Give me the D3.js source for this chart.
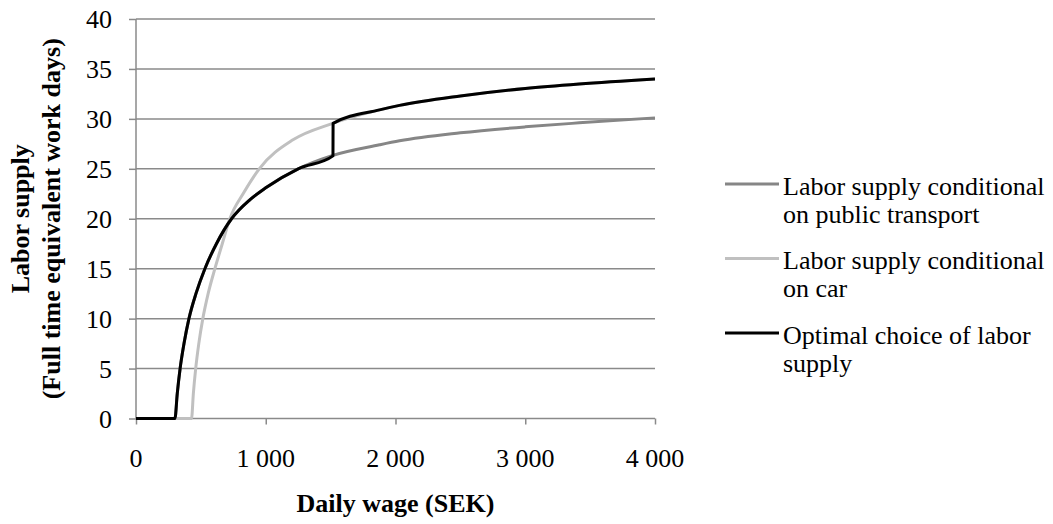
<!DOCTYPE html>
<html>
<head>
<meta charset="utf-8">
<script src="https://cdn.jsdelivr.net/npm/d3@7"></script>
<style>
  html, body { margin: 0; padding: 0; background: #fff; }
  svg { display: block; }
</style>
</head>
<body>
<svg id="chart" width="1053" height="524"></svg>
<script>
// ---- data ----
const xTicks = [0, 1000, 2000, 3000, 4000];
const yTicks = [0, 5, 10, 15, 20, 25, 30, 35, 40];

const ptWage   = [0, 300, 318, 340, 370, 408, 462, 531, 620, 736, 877, 1000, 1250, 1505, 1877, 2031, 2500, 3000, 3415, 4000];
const ptSupply = [0, 0, 2.5, 5, 7.5, 10, 12.5, 15, 17.5, 20, 21.9, 23.1, 25, 26.3, 27.4, 27.8, 28.6, 29.2, 29.6, 30.1];

const carWage   = [0, 428, 442, 460, 484, 515, 556, 608, 665, 723, 830, 950, 1210, 1505, 1877, 2031, 2500, 3000, 3415, 4000];
const carSupply = [0, 0, 2.5, 5, 7.5, 10, 12.5, 15, 17.5, 20, 22.6, 25, 27.9, 29.5, 30.9, 31.35, 32.3, 33.05, 33.5, 34.0];

const optWage   = [0, 300, 318, 340, 370, 408, 462, 531, 620, 736, 877, 1000, 1250, 1518, 1519, 1877, 2031, 2500, 3000, 3415, 4000];
const optSupply = [0, 0, 2.5, 5, 7.5, 10, 12.5, 15, 17.5, 20, 21.9, 23.1, 25, 26.3, 29.55, 30.9, 31.35, 32.3, 33.05, 33.5, 34.0];

const seriesLine1 = ["Labor supply conditional", "Labor supply conditional", "Optimal choice of labor"];
const seriesLine2 = ["on public transport", "on car", "supply"];
const seriesColors = ["#868686", "#c0c0c0", "#000000"];

// ---- chart ----
const FAMILY = "Times New Roman";
const FS = 26;
const svg = d3.select("#chart");
const x = d3.scaleLinear().domain([0, 4000]).range([136, 655]);
const y = d3.scaleLinear().domain([0, 40]).range([418.5, 19]);
const gridColor = "#8a8a8a";

function addText(xp, yp, str, opts = {}) {
  const t = svg.append("text")
    .attr("x", xp).attr("y", yp)
    .attr("font-family", FAMILY)
    .attr("font-size", FS)
    .attr("fill", "#000")
    .attr("text-anchor", opts.anchor || "start")
    .style("font-family", `"${FAMILY}"`)
    .text(str);
  if (opts.bold) t.attr("font-weight", "bold");
  if (opts.transform) t.attr("transform", opts.transform);
  return t;
}

// gridlines
svg.append("g").selectAll("line").data(yTicks.filter(d => d > 0)).join("line")
  .attr("x1", x(0)).attr("x2", x(4000))
  .attr("y1", d => y(d)).attr("y2", d => y(d))
  .attr("stroke", gridColor).attr("stroke-width", 1.5);

// axes (lines and tick marks)
const xAxis = svg.append("g").attr("transform", `translate(0,${y(0)})`)
  .call(d3.axisBottom(x).tickValues(xTicks).tickSize(6).tickFormat(() => ""));
const yAxis = svg.append("g").attr("transform", `translate(${x(0)},0)`)
  .call(d3.axisLeft(y).tickValues(yTicks).tickSize(7).tickFormat(() => ""));
[xAxis, yAxis].forEach(g => {
  g.selectAll(".tick text").remove();
  g.select(".domain").attr("stroke", gridColor).attr("stroke-width", 1.5);
  g.selectAll(".tick line").attr("stroke", gridColor).attr("stroke-width", 1.5);
});
xAxis.select(".domain").attr("d", `M${x(0)},0H${x(4000)}`);
yAxis.select(".domain").attr("d", `M0,${y(40)}V${y(0)}`);

// tick labels (through the scales)
const fmt = d => d3.format(",")(d).replace(",", "\u00a0");
xTicks.forEach(d => addText(x(d), 467, fmt(d), { anchor: "middle" }));
yTicks.forEach(d => addText(112, y(d) + 9, d3.format("d")(d), { anchor: "end" }));

// series
const line = d3.line().x(d => x(d[0])).y(d => y(d[1])).curve(d3.curveMonotoneX);
const series = [
  d3.zip(ptWage, ptSupply),
  d3.zip(carWage, carSupply),
  d3.zip(optWage, optSupply)
];
svg.append("g").selectAll("path").data(series).join("path")
  .attr("d", line)
  .attr("fill", "none")
  .attr("stroke", (d, i) => seriesColors[i])
  .attr("stroke-width", 3)
  .attr("stroke-linejoin", "round");

// axis titles
addText((x(0) + x(4000)) / 2, 512, "Daily wage (SEK)", { anchor: "middle", bold: true });
const yMid = (y(0) + y(40)) / 2;
addText(0, 0, "Labor supply", { anchor: "middle", bold: true, transform: `translate(29,${yMid}) rotate(-90)` });
addText(0, 0, "(Full time equivalent work days)", { anchor: "middle", bold: true, transform: `translate(60,${yMid}) rotate(-90)` });

// legend
const legendY = [184, 258.5, 333];
svg.append("g").selectAll("line").data(seriesColors).join("line")
  .attr("x1", 725).attr("x2", 779)
  .attr("y1", (d, i) => legendY[i]).attr("y2", (d, i) => legendY[i])
  .attr("stroke", d => d).attr("stroke-width", 3);
seriesLine1.forEach((s, i) => {
  addText(783, legendY[i] + 10.5, s);
  addText(783, legendY[i] + 38.5, seriesLine2[i]);
});
</script>
</body>
</html>
